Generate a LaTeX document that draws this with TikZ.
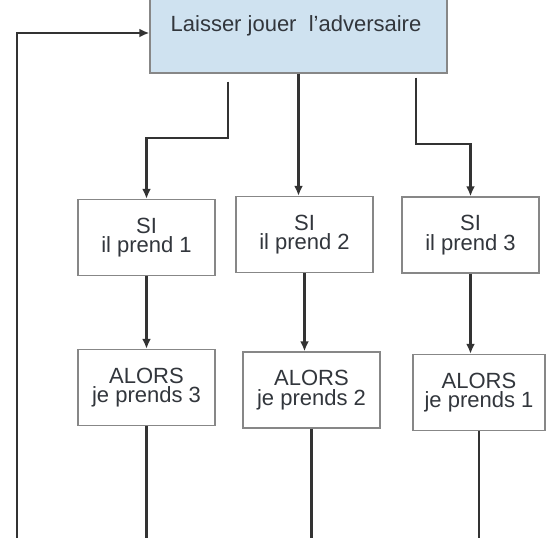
\documentclass[tikz,border=0pt]{standalone}
\usepackage{fontspec}
\setmainfont{Liberation Sans}
\usetikzlibrary{arrows.meta,calc}
\definecolor{boxblue}{RGB}{207,226,240}
\definecolor{txtgray}{RGB}{50,54,60}
\definecolor{edgegray}{RGB}{135,135,135}

\begin{document}
\begin{tikzpicture}[x=0.5pt,y=-0.5pt,
		box/.style={draw=edgegray,line width=0.7pt,text=txtgray,align=center,
			font=\fontsize{11}{9.8}\selectfont,minimum width=68.5pt,minimum height=38pt,inner sep=0pt},
		link/.style={draw=black!80,line width=1.1pt},
		arr/.style={link,-{Latex[length=5pt,width=4.5pt]}}]
		\clip (0,0) rectangle (546,537);
		\useasboundingbox (0,0) rectangle (546,537);
		\fill[white] (0,0) rectangle (546,537);

		\node[box,fill=boxblue,minimum width=148.5pt,minimum height=40pt] (adv) at (298.5,33) {};
		\node[text=txtgray,font=\fontsize{11}{9.8}\selectfont] (advtext) at (296,26) {Laisser jouer~~l'adversaire};

		\node[box] (si1) at (146.5,237.5) {SI\\il prend 1};
		\node[box] (si2) at (304.5,234.5) {SI\\il prend 2};
		\node[box] (si3) at (470.5,235) {SI\\il prend 3};

		\node[box] (al1) at (146.5,387.5) {ALORS\\je prends 3};
		\node[box] (al2) at (311.5,390) {ALORS\\je prends 2};
		\node[box,minimum width=66pt] (al3) at (479,392.5) {ALORS\\je prends 1};

		\coordinate (loopend) at (17,545);
		\draw[arr] (loopend) |- (adv.west);

		\draw[arr] ($(adv.south)+(-70.5,8)$) -- ++(0,56.5) -| (si1.north);
		\draw[arr] (adv.south) -- (adv.south |- si2.north);
		\draw[arr] ($(adv.south)+(117.5,4)$) -- ++(0,66) -| (si3.north);

		\draw[arr] (si1) -- (al1);
		\draw[arr] (si2.south) -- (si2.south |- al2.north);
		\draw[arr] (si3.south) -- (si3.south |- al3.north);

		\draw[link] (al1.south) -- (al1.south |- loopend);
		\draw[link] (al2.south) -- (al2.south |- loopend);
		\draw[link] (al3.south) -- (al3.south |- loopend);
	\end{tikzpicture}
\end{document}
